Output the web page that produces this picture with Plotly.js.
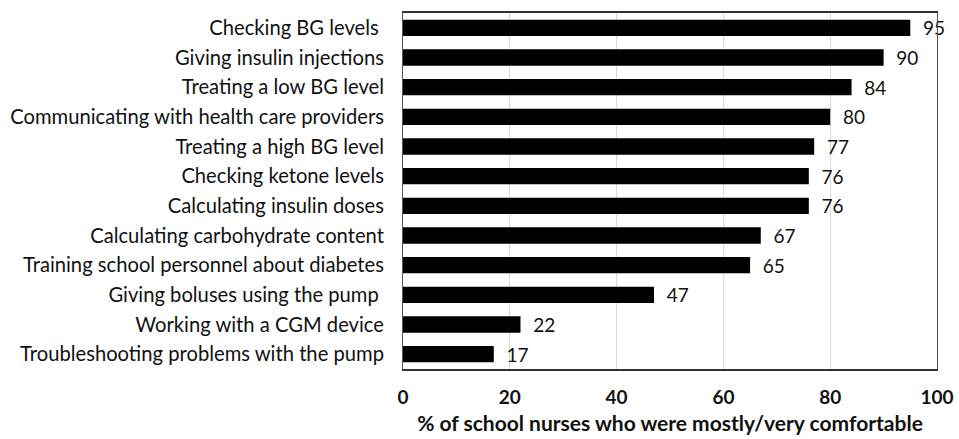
<!DOCTYPE html>
<html>
<head>
<meta charset="utf-8">
<script src="https://cdn.plot.ly/plotly-3.0.1.min.js"></script>
<style>
  html, body { margin: 0; padding: 0; background: #fff; }
  #plot { width: 959px; height: 439px; }
</style>
</head>
<body>
<div id="plot"></div>
<script>
var tasks = [
    "Checking BG levels ",
    "Giving insulin injections",
    "Treating a low BG level",
    "Communicating with health care providers",
    "Treating a high BG level",
    "Checking ketone levels",
    "Calculating insulin doses",
    "Calculating carbohydrate content",
    "Training school personnel about diabetes",
    "Giving boluses using the pump ",
    "Working with a CGM device",
    "Troubleshooting problems with the pump"
];
var percents = [95, 90, 84, 80, 77, 76, 76, 67, 65, 47, 22, 17];
var xTicks = [0, 20, 40, 60, 80, 100];

var trace = {
    type: 'bar',
    orientation: 'h',
    y: tasks,
    x: percents,
    width: 0.55,
    marker: { color: '#000000' },
    text: percents.map(function (v) { return '  ' + v; }),
    textposition: 'outside',
    constraintext: 'none',
    cliponaxis: false,
    textfont: { family: 'Lato, sans-serif', size: 19, color: '#111' }
};

var layout = {
    width: 959,
    height: 439,
    margin: { l: 403, r: 22, t: 13, b: 70 },
    paper_bgcolor: '#fff',
    plot_bgcolor: '#fff',
    showlegend: false,
    font: { family: 'Lato, sans-serif', color: '#111' },
    xaxis: {
        range: [0, 100],
        tickvals: xTicks,
        ticktext: xTicks.map(String),
        tickfont: { size: 19, weight: 'bold', color: '#111' },
        showgrid: true,
        gridcolor: '#d9d9d9',
        gridwidth: 1,
        zeroline: false,
        showline: true,
        linecolor: '#333',
        linewidth: 1.5,
        mirror: true,
        ticks: '',
        ticklabelstandoff: 10,
        title: {
            text: '% of school nurses who were mostly/very comfortable',
            font: { size: 21, weight: 'bold', color: '#111' },
            standoff: 10
        }
    },
    yaxis: {
        autorange: 'reversed',
        tickfont: { size: 20.2, color: '#111' },
        showline: true,
        linecolor: '#555',
        linewidth: 1,
        mirror: true,
        showgrid: false,
        ticks: '',
        ticklabelstandoff: 14
    }
};

var plotElement = document.getElementById('plot');
if (plotElement) {
    Plotly.newPlot('plot', [trace], layout, { displayModeBar: false });
} else {
    console.error("No DOM element with id 'plot' exists on the page.");
}
</script>
</body>
</html>
